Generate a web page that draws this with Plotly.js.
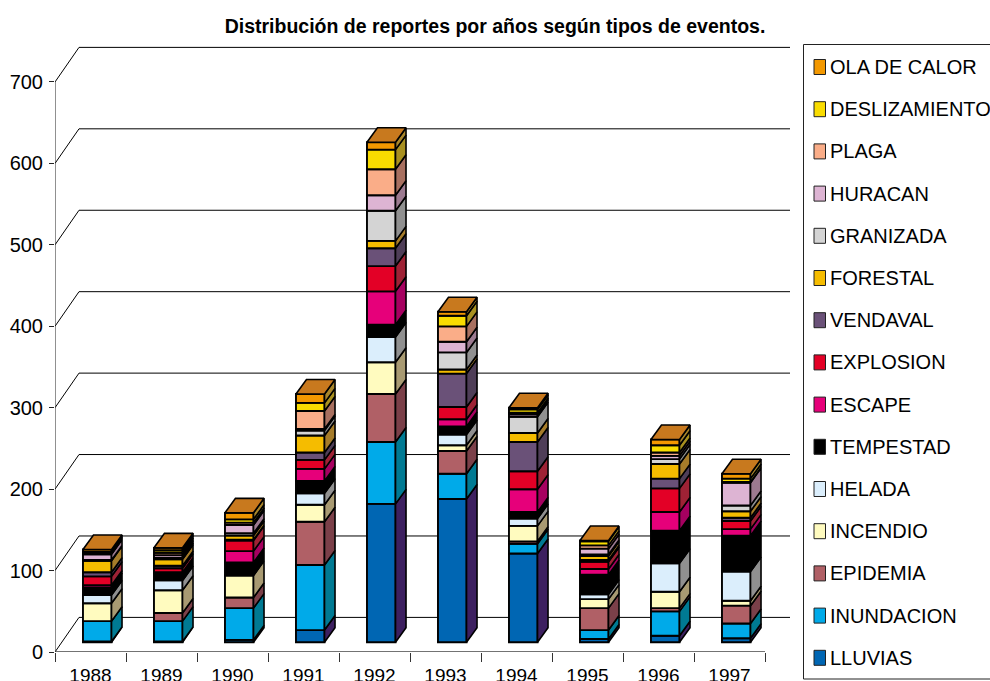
<!DOCTYPE html>
<html>
<head>
<meta charset="utf-8">
<script src="https://cdn.plot.ly/plotly-3.0.1.min.js"></script>
<style>html,body{margin:0;padding:0;background:#fff;overflow:hidden}</style>
</head>
<body>
<div id="chart" style="width:990px;height:681px"></div>
<script>
const years = ['1988','1989','1990','1991','1992','1993','1994','1995','1996','1997'];
const LLUVIAS       = [1,1,3,15,170,176,109,4,8,5];
const INUNDACION    = [25,25,39,80,76,31,12,11,30,18];
const EPIDEMIA      = [0,10,13,53,59,28,3,27,4,22];
const INCENDIO      = [22,28,27,21,39,7,19,11,20,6];
const HELADA        = [10,12,1,14,31,13,9,6,35,36];
const TEMPESTAD     = [9,9,15,15,15,10,8,24,40,44];
const ESCAPE        = [3,1,14,15,41,9,28,7,23,8];
const EXPLOSION     = [11,5,13,11,31,15,22,9,29,10];
const VENDAVAL      = [5,3,1,9,22,41,36,2,12,4];
const FORESTAL      = [14,8,5,21,9,5,11,5,18,8];
const GRANIZADA     = [1,2,3,6,37,21,20,2,6,7];
const HURACAN       = [7,3,10,2,19,13,3,7,4,28];
const PLAGA         = [1,3,3,22,32,19,2,4,4,1];
const DESLIZAMIENTO = [2,3,4,10,24,13,4,5,9,4];
const OLA_DE_CALOR  = [3,3,8,11,9,5,2,1,7,6];

const seriesNames = ['LLUVIAS','INUNDACION','EPIDEMIA','INCENDIO','HELADA','TEMPESTAD','ESCAPE','EXPLOSION','VENDAVAL','FORESTAL','GRANIZADA','HURACAN','PLAGA','DESLIZAMIENTO','OLA DE CALOR'];
const seriesValues = [LLUVIAS,INUNDACION,EPIDEMIA,INCENDIO,HELADA,TEMPESTAD,ESCAPE,EXPLOSION,VENDAVAL,FORESTAL,GRANIZADA,HURACAN,PLAGA,DESLIZAMIENTO,OLA_DE_CALOR];
const frontColors = ['#0066B3','#00AAE9','#B06066','#FFFBBF','#DBEEFC','#000000','#E6007A','#E30026','#6A5178','#F5BC00','#D4D4D4','#DDB4D3','#FAAD88','#F9DC00','#F39800'];
const sideColors  = ['#3D2060','#007A93','#7B4049','#A89A72','#909090','#000000','#A60060','#9E2235','#4F3E58','#A67C2A','#909090','#9C7A90','#A87060','#A89020','#A8852A'];
const topColor = '#C8791E';
const yTicks = [0,100,200,300,400,500,600,700];

// Pixel frame of the plot area
const L = 55, R = 790, T = 46, B = 652, W = 990, H = 681;
const PXX = 71, PXY = 0.8143;               // px per category, px per unit
const DX = 24 / PXX, DY = 34.6 / PXY;       // depth of the chart's floor
const XMAX = (R - L) / PXX, YMAX = (B - T) / PXY;
const BAR_L = 0.394, BAR_W = 0.402;         // front face inside a category
const BAR_Y0 = 9.7 / PXY;                   // front face lift
const BDX = 10.5 / PXX, BDY = 14.5 / PXY;   // bar depth

const px = x => (x - L) / (R - L);
const py = y => (B - y) / (B - T);

const traces = [];
const cum = years.map(() => BAR_Y0);
seriesNames.forEach((name, s) => {
  const vals = seriesValues[s];
  const base = cum.slice();
  traces.push({
    type: 'bar', name, x: years.map((_, i) => i + BAR_L + BAR_W / 2), y: vals, base,
    width: BAR_W, marker: {color: frontColors[s], line: {color: '#000', width: 1.9}},
    customdata: years, hovertemplate: '%{customdata} ' + name + ': %{y}<extra></extra>'
  });
  const sx = [], sy = [];
  years.forEach((_, i) => {
    const xr = i + BAR_L + BAR_W, y0 = base[i], y1 = base[i] + vals[i];
    sx.push(xr, xr + BDX, xr + BDX, xr, xr, null);
    sy.push(y0, y0 + BDY, y1 + BDY, y1, y0, null);
    cum[i] = y1;
  });
  traces.push({
    type: 'scatter', mode: 'lines', x: sx, y: sy, fill: 'toself', fillcolor: sideColors[s],
    line: {color: '#000', width: 1.6}, hoverinfo: 'skip', showlegend: false
  });
});
const tx = [], ty = [];
years.forEach((_, i) => {
  const xl = i + BAR_L, xr = xl + BAR_W, y = cum[i];
  tx.push(xl, xr, xr + BDX, xl + BDX, xl, null);
  ty.push(y, y, y + BDY, y + BDY, y, null);
});
traces.push({
  type: 'scatter', mode: 'lines', x: tx, y: ty, fill: 'toself', fillcolor: topColor,
  line: {color: '#000', width: 1.6}, hoverinfo: 'skip', showlegend: false
});

const line = {color: '#000', width: 1};
const shapes = [];
yTicks.forEach(v => {
  shapes.push({type: 'line', layer: 'below', xref: 'x', yref: 'y', x0: 0, y0: v, x1: DX, y1: v + DY, line});
  shapes.push({type: 'line', layer: 'below', xref: 'x', yref: 'y', x0: DX, y0: v + DY, x1: XMAX, y1: v + DY, line});
});
shapes.push({type: 'line', layer: 'below', xref: 'x', yref: 'y', x0: 0, y0: 0, x1: years.length, y1: 0, line: {color: '#444', width: 1.4}});
shapes.push({type: 'line', layer: 'below', xref: 'x', yref: 'y', x0: 0, y0: 0, x1: 0, y1: yTicks[yTicks.length - 1], line: {color: '#222', width: 1}});

// Legend box, listed top to bottom
const annotations = [];
shapes.push({type: 'rect', xref: 'paper', yref: 'paper', x0: px(803.5), x1: px(1000), y0: py(679), y1: py(44.5), line: {color: '#222', width: 1}, fillcolor: 'rgba(0,0,0,0)'});
const LEG_TOP = 67, LEG_STEP = 42.2;
seriesNames.slice().reverse().forEach((name, k) => {
  const s = seriesNames.length - 1 - k, cy = LEG_TOP + k * LEG_STEP;
  shapes.push({type: 'rect', xref: 'paper', yref: 'paper', x0: px(814), x1: px(825.5), y0: py(cy + 7.5), y1: py(cy - 7.5), fillcolor: frontColors[s], line: {color: '#222', width: 1}});
  annotations.push({text: name, xref: 'paper', yref: 'paper', x: px(829), y: py(cy), xanchor: 'left', yanchor: 'middle', showarrow: false, align: 'left', borderpad: 0, font: {family: 'Liberation Sans, Arial, sans-serif', size: 20, color: '#000'}});
});

const layout = {
  width: W, height: H, autosize: false, showlegend: false, barmode: 'overlay',
  margin: {l: L, r: W - R, t: T, b: H - B, pad: 0},
  paper_bgcolor: '#fff', plot_bgcolor: '#fff',
  font: {family: 'Liberation Sans, Arial, sans-serif', color: '#000'},
  title: {text: '<b>Distribución de reportes por años según tipos de eventos.</b>', x: 495 / W, xanchor: 'center', y: 1 - 26 / H, yanchor: 'middle', font: {size: 19.5, color: '#000'}},
  xaxis: {
    type: 'linear', range: [0, XMAX], showgrid: false, zeroline: false, showline: false, fixedrange: true,
    tickmode: 'array', tickvals: years.map((_, i) => i + 0.5), ticktext: years,
    ticks: 'outside', ticklen: 6, tickcolor: 'rgba(0,0,0,0)', tickfont: {size: 19},
    minor: {tickmode: 'array', tickvals: years.map((_, i) => i).concat(years.length), ticks: 'outside', ticklen: 9, tickwidth: 1, tickcolor: '#333', showgrid: false}
  },
  yaxis: {
    type: 'linear', range: [0, YMAX], showgrid: false, zeroline: false, showline: false, fixedrange: true,
    tickmode: 'array', tickvals: yTicks, ticks: 'outside', ticklen: 5, tickwidth: 1, tickcolor: '#222', tickfont: {size: 20}, ticklabelstandoff: 2
  },
  shapes, annotations
};
Plotly.newPlot('chart', traces, layout, {displayModeBar: false, responsive: false});
</script>
</body>
</html>
